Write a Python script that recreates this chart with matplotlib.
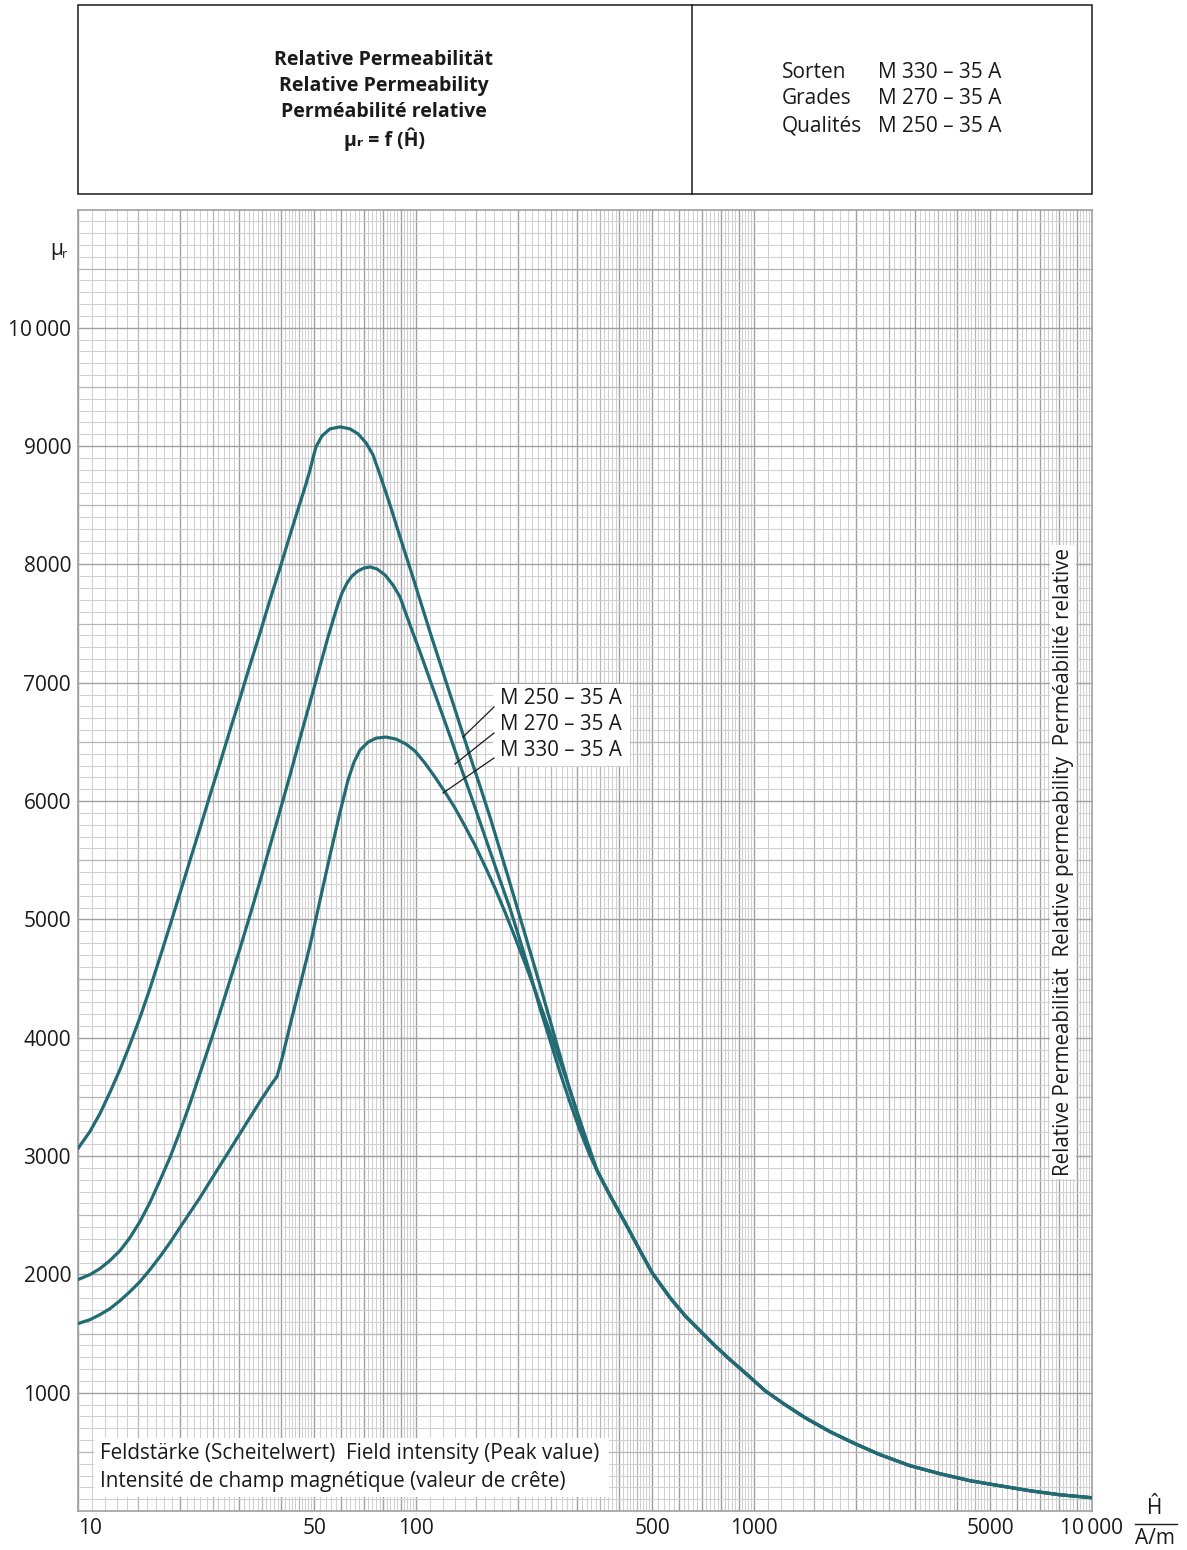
import matplotlib
matplotlib.use('Agg')
import matplotlib.pyplot as plt
from matplotlib.patches import Rectangle

plt.rcParams['font.family'] = ['Open Sans', 'DejaVu Sans']

W, H_PX = 1187, 1550
curve_color = '#236b74'
ink = '#1a1a1a'

# field strength H (A/m, peak) and relative permeability per grade,
# up to the point where the three curves meet
h_250 = [10, 10.85, 11.62, 12.43, 13.32, 14.25, 15.26, 16.33, 17.48, 18.72,
         20.03, 21.45, 22.96, 24.58, 26.31, 28.17, 30.16, 32.28, 34.56, 36.98,
         39.6, 42.39, 45.38, 47.28, 48.59, 49.58, 50.6, 52.72, 55.67, 59.59,
         63.78, 67.36, 71.14, 74.62, 78.26, 83.79, 89.69, 95.99, 102.8, 110,
         117.8, 126.1, 135, 144.5, 154.7, 165.6, 177.3, 189.7, 203.1, 217.5,
         232.8, 249.2, 266.7, 285.5, 305.6, 327.2]
mu_250 = [3064, 3208, 3360, 3538, 3733, 3944, 4172, 4417, 4680, 4950,
          5221, 5500, 5771, 6050, 6321, 6600, 6871, 7150, 7421, 7700,
          7970, 8249, 8520, 8681, 8799, 8901, 8994, 9087, 9146, 9163,
          9146, 9104, 9028, 8926, 8757, 8503, 8232, 7970, 7699, 7429,
          7166, 6904, 6642, 6380, 6126, 5864, 5585, 5306, 5018, 4730,
          4443, 4147, 3851, 3555, 3284, 3030]

h_270 = [10, 10.85, 11.62, 12.43, 13.32, 14.25, 15.26, 16.33, 17.48, 18.72,
         20.03, 21.45, 22.96, 24.91, 26.31, 28.17, 30.16, 32.28, 34.56, 36.98,
         40.42, 42.39, 45.38, 48.59, 52.0, 54.91, 57.2, 58.78, 60.41, 62.5,
         64.66, 67.36, 70.18, 73.11, 76.68, 80.97, 85.51, 89.69, 95.99, 102.8,
         110, 117.8, 126.1, 135, 144.5, 154.7, 165.6, 177.3, 189.7, 203.1,
         217.5, 232.8, 249.2, 266.7, 285.5, 305.6, 327.2]
mu_270 = [1956, 1998, 2049, 2117, 2201, 2311, 2447, 2608, 2794, 2989,
          3208, 3445, 3699, 4003, 4215, 4486, 4756, 5036, 5323, 5619,
          6008, 6219, 6532, 6836, 7141, 7386, 7555, 7665, 7758, 7843,
          7902, 7945, 7970, 7979, 7962, 7911, 7826, 7725, 7488, 7260,
          7023, 6786, 6549, 6304, 6067, 5822, 5576, 5331, 5094, 4823,
          4544, 4248, 3978, 3707, 3453, 3216, 3004]

h_330 = [10, 10.85, 11.62, 12.43, 13.32, 14.25, 15.26, 16.33, 17.48, 18.72,
         20.03, 21.45, 22.96, 24.58, 26.31, 28.17, 30.16, 32.28, 34.56, 36.98,
         38.8, 40.15, 42.39, 45.38, 48.59, 52.0, 55.67, 59.59, 62.92, 65.55,
         68.28, 72.11, 76.16, 81.52, 87.27, 93.42, 99.31, 106.3, 113.8, 121.9,
         130.5, 139.6, 149.5, 160, 171.3, 183.4, 196.3, 210.2, 225, 240.8,
         257.8, 276, 295.4, 316.2]
mu_330 = [1584, 1617, 1660, 1710, 1778, 1854, 1939, 2040, 2150, 2269,
          2396, 2523, 2649, 2785, 2920, 3055, 3191, 3326, 3462, 3589,
          3673, 3825, 4104, 4443, 4781, 5162, 5542, 5906, 6177, 6329,
          6431, 6498, 6532, 6541, 6524, 6482, 6423, 6321, 6203, 6076,
          5940, 5788, 5627, 5450, 5264, 5061, 4849, 4629, 4401, 4164,
          3927, 3682, 3428, 3174]

# shared tail above ~340 A/m
h_tail = [343.2, 375, 415.3, 460, 499.2, 564.3, 625, 692.1, 766.6, 849.3, 940.6,
          1078, 1235, 1416, 1679, 1990, 2360, 2894, 3550, 4357, 5344, 6556,
          8042, 10000]
mu_tail = [2879, 2666, 2438, 2201, 2015, 1803, 1651, 1524, 1397, 1279, 1169,
           1017, 899, 789, 670, 569, 476, 383, 315, 256, 213, 171, 137, 112]

grades = ['M 250 – 35 A', 'M 270 – 35 A', 'M 330 – 35 A']
x_ticks = [10, 50, 100, 500, 1000, 5000, 10000]
x_tick_labels = ['10', '50', '100', '500', '1000', '5000', '10\u2009000']
y_ticks = [1000, 2000, 3000, 4000, 5000, 6000, 7000, 8000, 9000, 10000]
y_tick_labels = ['1000', '2000', '3000', '4000', '5000', '6000', '7000', '8000',
                 '9000', '10\u2009000']


def fx(x):
    return x / W


def fy(y):
    return 1 - y / H_PX


fig = plt.figure(figsize=(W / 100, H_PX / 100), dpi=100)
ax = fig.add_axes([fx(78), fy(1511), fx(1092) - fx(78), fy(209.5) - fy(1511)])
ax.set_xscale('log')
ax.set_xlim(10, 10000)
ax.set_ylim(0, 11000)

# log paper: vertical lines
light, mid, dark = '#d0d0d0', '#b6b6b6', '#a0a0a0'
for d in [10, 100, 1000]:
    ks = list(range(10, 50)) + list(range(50, 100, 2))
    for k in ks:
        if k % 10 == 0:
            c, lw = dark, 1.0
        elif k % 5 == 0:
            c, lw = mid, 0.9
        else:
            c, lw = light, 0.75
        ax.axvline(d * k / 10, color=c, lw=lw, zorder=1)
for v in range(100, 11000, 100):
    if v % 1000 == 0:
        c, lw = dark, 1.0
    elif v % 500 == 0:
        c, lw = mid, 0.9
    else:
        c, lw = light, 0.75
    ax.axhline(v, color=c, lw=lw, zorder=1)

for s in ax.spines.values():
    s.set_color('#a0a0a0')
    s.set_linewidth(1.2)

for hh, mm in [(h_250, mu_250), (h_270, mu_270), (h_330, mu_330)]:
    ax.plot(hh + h_tail, mm + mu_tail, color=curve_color, lw=2.3, zorder=5,
            solid_joinstyle='round', solid_capstyle='round')

ax.set_xticks(x_ticks)
ax.set_xticklabels(x_tick_labels, fontsize=15)
ax.xaxis.get_majorticklabels()[0].set_horizontalalignment('left')
ax.set_yticks(y_ticks)
ax.set_yticklabels(y_tick_labels, fontsize=15)
ax.minorticks_off()
ax.tick_params(length=0, pad=5, colors=ink)

# grade labels with leader lines
ax.add_patch(Rectangle((fx(493), fy(766)), fx(630) - fx(493), fy(684) - fy(766),
                       transform=fig.transFigure, facecolor='white',
                       edgecolor='none', zorder=3))
lab_y = [698, 725, 751]
leaders = [((494, 707), (463, 737)), ((494, 733), (455, 764)),
           ((494, 758), (443, 793))]
for g, yy, (p0, p1) in zip(grades, lab_y, leaders):
    fig.text(fx(500), fy(yy), g, fontsize=14.8, va='center', ha='left',
             color=ink, zorder=6)
    fig.add_artist(plt.Line2D([fx(p0[0]), fx(p1[0])], [fy(p0[1]), fy(p1[1])],
                              color=ink, lw=0.9, zorder=6))

# axis text boxes
fig.text(fx(1063), fy(862), 'Relative Permeabilität  Relative permeability  '
         'Perméabilité relative', rotation=90, fontsize=14.8, ha='center',
         va='center', color=ink,
         bbox=dict(facecolor='white', edgecolor='none', pad=2))
ax.add_patch(Rectangle((fx(94), fy(1497)), fx(609) - fx(94), fy(1438) - fy(1497),
                       transform=fig.transFigure, facecolor='white',
                       edgecolor='none', zorder=3))
fig.text(fx(100), fy(1453), 'Feldstärke (Scheitelwert)  Field intensity (Peak value)',
         fontsize=14.9, va='center', ha='left', color=ink)
fig.text(fx(100), fy(1481), 'Intensité de champ magnétique (valeur de crête)',
         fontsize=14.9, va='center', ha='left', color=ink)

fig.text(fx(50), fy(250), 'μ', fontsize=15, va='center', ha='left', color=ink)
fig.text(fx(62), fy(255), 'r', fontsize=9, va='center', ha='left', color=ink)

# unit of the x axis
fig.text(fx(1155), fy(1508), 'Ĥ', fontsize=15, ha='center', va='center',
         color=ink)
fig.add_artist(plt.Line2D([fx(1135), fx(1177)], [fy(1524), fy(1524)],
                          color=ink, lw=1.0))
fig.text(fx(1155), fy(1538), 'A/m', fontsize=15, ha='center', va='center',
         color=ink)

# header box
fig.add_artist(Rectangle((fx(78), fy(194)), fx(1092) - fx(78), fy(5) - fy(194),
                         transform=fig.transFigure, facecolor='none',
                         edgecolor=ink, lw=1.1))
fig.add_artist(plt.Line2D([fx(692), fx(692)], [fy(5), fy(194)], color=ink,
                          lw=1.1))
title_lines = ['Relative Permeabilität', 'Relative Permeability',
               'Perméabilité relative']
for t, yy in zip(title_lines, [60, 86, 112]):
    fig.text(fx(384), fy(yy), t, fontsize=14, fontweight='bold', ha='center',
             va='center', color=ink)
fig.text(fx(384), fy(139), 'μᵣ = f (Ĥ)', fontsize=14, fontweight='bold',
         ha='center', va='center', color=ink)

for t, g, yy in zip(['Sorten', 'Grades', 'Qualités'],
                    ['M 330 – 35 A', 'M 270 – 35 A', 'M 250 – 35 A'],
                    [72, 99, 126]):
    fig.text(fx(782), fy(yy), t, fontsize=15, ha='left', va='center', color=ink)
    fig.text(fx(878), fy(yy), g, fontsize=15, ha='left', va='center', color=ink)

fig.savefig('out.png', dpi=100)
